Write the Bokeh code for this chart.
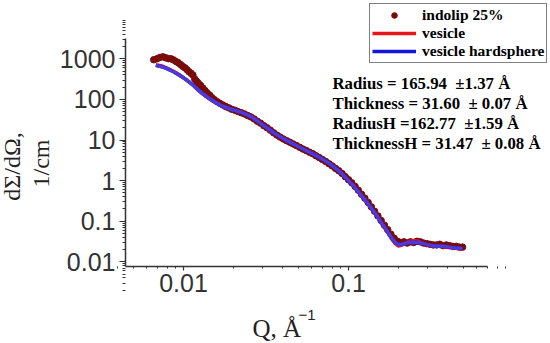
import math
from bokeh.plotting import figure
from bokeh.models import FixedTicker, Label, Legend, LegendItem
from bokeh.embed import file_html
from bokeh.resources import INLINE

# ---- data ----
q_data = [0.0066, 0.0069, 0.0072, 0.0075, 0.0078, 0.0081, 0.0084, 0.0087, 0.0090, 0.0093,
          0.0096, 0.0099, 0.0102, 0.0105, 0.0108, 0.0111, 0.0114, 0.0117, 0.0120, 0.0123,
          0.0127, 0.0131, 0.0135, 0.0139, 0.0144, 0.0149, 0.0154, 0.0160, 0.0166, 0.0173,
          0.0180, 0.0188, 0.0196, 0.0205, 0.0214, 0.0224, 0.0234, 0.0245, 0.0256, 0.0268,
          0.0280, 0.0293, 0.0307, 0.0321, 0.0336, 0.0352, 0.0368, 0.0385, 0.0403, 0.0422,
          0.0441, 0.0462, 0.0483, 0.0506, 0.0529, 0.0554, 0.0580, 0.0607, 0.0635, 0.0664,
          0.0695, 0.0728, 0.0762, 0.0797, 0.0834, 0.0873, 0.0914, 0.0956, 0.1001, 0.1047,
          0.1096, 0.1147, 0.1200, 0.1256, 0.1315, 0.1376, 0.1440, 0.1507, 0.1577, 0.1650,
          0.1727, 0.1807, 0.1891, 0.1979, 0.2071, 0.2168, 0.2268, 0.2374, 0.2484, 0.2600,
          0.2721, 0.2847, 0.2980, 0.3118, 0.3263, 0.3415, 0.3574, 0.3740, 0.3914, 0.4096,
          0.4287, 0.4486, 0.4695, 0.4913]
i_data = [950, 1000, 1080, 1120, 1060, 1010, 1000, 940, 860, 800,
          720, 650, 600, 540, 480, 440, 400, 320, 280, 250,
          220, 190, 165, 145, 128, 110, 98, 88, 80, 73,
          67, 62, 57, 54, 50, 47, 44, 40, 37, 33,
          29, 26, 22.5, 20, 17.5, 15, 13.2, 11.8, 10.6, 9.6,
          8.8, 8.0, 7.3, 6.6, 6.0, 5.5, 5.0, 4.6, 4.1, 3.7,
          3.3, 2.95, 2.6, 2.3, 2.0, 1.75, 1.5, 1.25, 1.05, 0.88,
          0.72, 0.58, 0.46, 0.37, 0.29, 0.225, 0.175, 0.135, 0.104, 0.080,
          0.062, 0.048, 0.038, 0.032, 0.030, 0.031, 0.029, 0.031, 0.030, 0.032,
          0.031, 0.029, 0.028, 0.027, 0.026, 0.026, 0.027, 0.025, 0.026, 0.025,
          0.024, 0.024, 0.023, 0.023]

q_fit = [0.0068, 0.0074, 0.0080, 0.0087, 0.0094, 0.0101, 0.0108, 0.0115, 0.0122, 0.0129,
         0.0136, 0.0145, 0.0155, 0.0165, 0.0175, 0.0190, 0.0205, 0.0220, 0.0240, 0.0260,
         0.0280, 0.0300, 0.0320, 0.0345, 0.0370, 0.0400, 0.0430, 0.0460, 0.0500, 0.0550,
         0.0600, 0.0650, 0.0700, 0.0750, 0.0800, 0.0850, 0.0900, 0.0950, 0.1000, 0.1060,
         0.1120, 0.1180, 0.1250, 0.1320, 0.1400, 0.1480, 0.1560, 0.1650, 0.1740, 0.1830,
         0.1920, 0.2000, 0.2100, 0.2200, 0.2350, 0.2500, 0.2650, 0.2800, 0.3000, 0.3250,
         0.3500, 0.3800, 0.4100, 0.4400, 0.4700, 0.4900]
i_vesicle = [720, 665, 585, 495, 410, 335, 272, 220, 174, 143,
             121, 100, 85, 74, 66, 59, 54, 49, 43, 36.5,
             29.5, 24, 20, 16, 13.3, 11.0, 9.4, 8.1, 6.8, 5.6,
             4.7, 3.95, 3.3, 2.8, 2.3, 1.9, 1.55, 1.25, 1.0, 0.78,
             0.60, 0.46, 0.35, 0.26, 0.19, 0.14, 0.10, 0.070, 0.050, 0.036,
             0.028, 0.0245, 0.0255, 0.029, 0.032, 0.033, 0.032, 0.029, 0.026, 0.0245,
             0.024, 0.0235, 0.0225, 0.0215, 0.021, 0.0205]
i_hard = [690, 640, 565, 480, 400, 330, 270, 220, 175, 145,
          123, 102, 86, 75, 66, 59, 54, 49, 43, 36.5,
          29.5, 24, 20, 16, 13.3, 11.0, 9.4, 8.1, 6.8, 5.6,
          4.7, 3.95, 3.3, 2.8, 2.3, 1.9, 1.55, 1.25, 1.0, 0.78,
          0.60, 0.46, 0.35, 0.26, 0.19, 0.14, 0.10, 0.072, 0.052, 0.038,
          0.030, 0.0265, 0.0265, 0.0285, 0.030, 0.0305, 0.030, 0.0285, 0.0265, 0.025,
          0.0245, 0.024, 0.023, 0.022, 0.0215, 0.021]

y_ticks = [0.01, 0.1, 1, 10, 100, 1000]
y_tick_labels = ["0.01", "0.1", "1", "10", "100", "1000"]
x_ticks = [0.01, 0.1]
x_tick_labels = ["0.01", "0.1"]

series_labels = ["indolip 25%", "vesicle", "vesicle hardsphere"]
fit_params = ["Radius = 165.94 \u00a0\u00b11.37 \u00c5",
              "Thickness = 31.60 \u00a0\u00b1 0.07 \u00c5",
              "RadiusH =162.77 \u00a0\u00b11.59 \u00c5",
              "ThicknessH = 31.47 \u00a0\u00b1 0.08 \u00c5"]
y_label_lines = ["d\u03a3/d\u03a9,", "1/cm"]
x_label_main = "Q, \u00c5"
x_label_sup = "\u22121"

# axis extents (data units)
x_axis_bounds = (0.00445, 0.696)
y_axis_bounds = (0.00766, 3162)

# ---- figure: the frame spans the whole canvas; axes are pinned inside it ----
W, H = 550, 343
p = figure(width=W, height=H, x_axis_type="log", y_axis_type="log",
           x_range=(0.000778, 1.6755), y_range=(9.72e-5, 27290),
           output_backend="svg", toolbar_location=None, min_border=0)
p.xgrid.visible = False
p.ygrid.visible = False
p.outline_line_color = None
p.background_fill_color = "white"
p.border_fill_color = "white"

dots = p.scatter(q_data, i_data, size=6.5, color="#7a0b0b")
red = p.line(q_fit, i_vesicle, line_width=3.5, color="#e8141c")
blue = p.line(q_fit, i_hard, line_width=3.5, color="#1414dc")
# the blended blue/red look of the overlapping fit curves in the plot
p.line(q_fit, i_hard, line_width=3.5, color="#4b3ad8")

minor_y = [k * 10.0 ** e for e in range(-3, 4) for k in range(2, 10)]
minor_x = [k * 10.0 ** e for e in range(-3, 0) for k in range(2, 10)]
p.yaxis.ticker = FixedTicker(ticks=y_ticks, minor_ticks=minor_y)
p.xaxis.ticker = FixedTicker(ticks=x_ticks, minor_ticks=minor_x)
p.yaxis.major_label_overrides = dict(zip(y_ticks, y_tick_labels))
p.xaxis.major_label_overrides = dict(zip(x_ticks, x_tick_labels))
p.xaxis.fixed_location = y_axis_bounds[0]
p.yaxis.fixed_location = x_axis_bounds[0]
p.xaxis.bounds = x_axis_bounds
p.yaxis.bounds = y_axis_bounds

for ax in (p.xaxis[0], p.yaxis[0]):
    ax.axis_line_color = "#333333"
    ax.axis_line_width = 1.5
    ax.major_tick_line_color = "#333333"
    ax.minor_tick_line_color = "#333333"
    ax.major_tick_line_width = 1.2
    ax.minor_tick_line_width = 1
    ax.major_tick_in = 0
    ax.minor_tick_in = 0
    ax.major_label_text_font = "Liberation Sans"
    ax.major_label_text_font_size = "25px"
    ax.major_label_text_color = "#333333"
p.yaxis.major_tick_out = 6
p.yaxis.minor_tick_out = 3
p.yaxis.major_label_standoff = 4
p.xaxis.major_tick_out = 4
p.xaxis.minor_tick_out = 2
p.xaxis.major_label_standoff = 3

legend = Legend(items=[LegendItem(label=series_labels[0], renderers=[dots]),
                       LegendItem(label=series_labels[1], renderers=[red]),
                       LegendItem(label=series_labels[2], renderers=[blue])],
                location=(369, H - 63), orientation="vertical",
                border_line_color="black", border_line_width=1,
                background_fill_color="white", background_fill_alpha=1,
                padding=2, spacing=0, margin=0,
                glyph_width=44, glyph_height=14, label_height=14, label_standoff=6,
                label_text_font="Liberation Serif", label_text_font_style="bold",
                label_text_font_size="15.5px", label_text_color="black")
p.add_layout(legend)

def lab(text, fx, fy, **kw):
    # fx, fy: canvas pixel coords (top-left origin) -> screen units of the frame
    p.add_layout(Label(x=fx, y=H - fy, x_units="screen", y_units="screen",
                       text=text, **kw))

for k, t in enumerate(fit_params):
    lab(t, 332, 83 + 20 * k, text_font="Liberation Serif", text_font_style="bold",
        text_font_size="16.8px", text_color="black", text_baseline="middle", text_align="left")

lab(y_label_lines[0], 11, 166, angle=math.pi / 2, text_font="Liberation Serif",
    text_font_size="24px", text_color="#222222", text_baseline="middle", text_align="center")
lab(y_label_lines[1], 40, 163, angle=math.pi / 2, text_font="Liberation Serif",
    text_font_size="24px", text_color="#222222", text_baseline="middle", text_align="center")
lab(x_label_main, 252, 328, text_font="Liberation Serif", text_font_size="25px",
    text_color="#222222", text_baseline="alphabetic", text_align="left")
lab(x_label_sup, 298, 314, text_font="Liberation Sans", text_font_size="15px",
    text_color="#222222", text_baseline="alphabetic", text_align="left")

open("out.html", "w").write(file_html(p, INLINE))
